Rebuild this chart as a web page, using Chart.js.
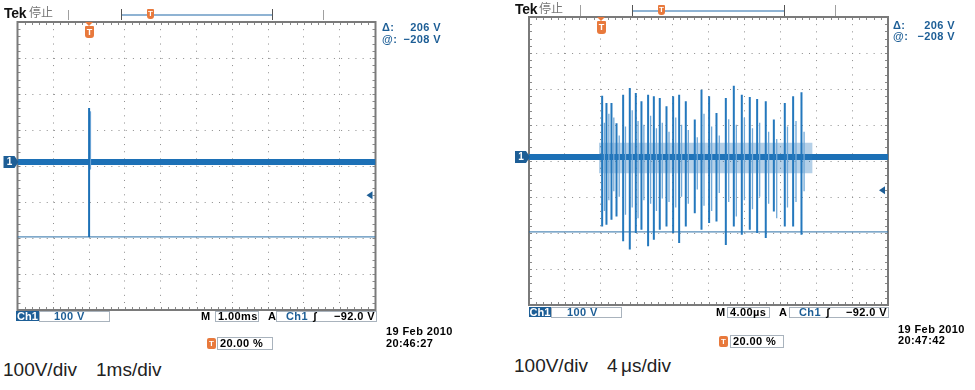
<!DOCTYPE html>
<html>
<head>
<meta charset="utf-8">
<script src="https://cdn.jsdelivr.net/npm/chart.js@4.4.1/dist/chart.umd.min.js"></script>
<style>
body { margin: 0; background: #fff; width: 975px; height: 390px; position: relative; overflow: hidden; font-family: "Liberation Sans", Arial, sans-serif; }
canvas { position: absolute; top: 0; }
.t { position: absolute; white-space: nowrap; line-height: 1; }
.s { font-weight: bold; font-size: 11px; letter-spacing: 0.4px; }
.blue { color: #1d5e96; }
.box { position: absolute; border: 1px solid #a9b3bd; box-sizing: border-box; }
.ch { position: absolute; background: #1d5e96; color: #fff; font-weight: bold; font-size: 11px; line-height: 10px; text-align: center; }
.tek { font-size: 14px; font-weight: bold; color: #111; letter-spacing: -0.3px; }
.stop { font-family: "Noto Sans CJK SC", sans-serif; font-size: 12px; color: #777; }
.cap { font-size: 19px; color: #222; }
.gtick { position: absolute; width: 1px; background: #a0a0a0; }
.brk { position: absolute; border: 1px solid #555; border-top: none; border-bottom: none; box-sizing: border-box; }
.brkline { position: absolute; height: 2px; background: #8fb3d3; }
.tsm { position: absolute; background: #e8793c; color: #fff; font: bold 8px "Liberation Sans", Arial, sans-serif; text-align: center; border-radius: 1px 1px 3px 3px; }
.tri { position: absolute; width: 0; height: 0; border-left: 4px solid transparent; border-right: 4px solid transparent; border-top: 4px solid #e8793c; }
</style>
</head>
<body>
<canvas id="slow" width="390" height="320" style="left:0"></canvas>
<canvas id="fast" width="400" height="315" style="left:510px"></canvas>

<!-- left capture header -->
<div class="t tek" style="left:4px;top:6px">Tek</div>
<div class="t stop" style="left:29px;top:6px">停止</div>
<div class="gtick" style="left:68px;top:10px;height:10px"></div>
<div class="gtick" style="left:323px;top:10px;height:10px"></div>
<div class="brk" style="left:121px;top:9px;width:152px;height:11px"></div>
<div class="brkline" style="left:122px;top:14px;width:150px"></div>
<div class="tsm" style="left:147px;top:9px;width:7px;height:10px;line-height:10px">T</div>
<div class="tri" style="left:85px;top:22px"></div>
<div class="tsm" style="left:85px;top:26px;width:9px;height:12px;line-height:12px;font-size:9px">T</div>
<div class="t s blue" style="left:382px;top:22px">Δ:</div>
<div class="t s blue" style="left:382px;top:34px;width:59px;text-align:left">@:</div>
<div class="t s blue" style="left:382px;top:22px;width:59px;text-align:right">206 V</div>
<div class="t s blue" style="left:382px;top:34px;width:59px;text-align:right">−208 V</div>

<!-- left capture footer -->
<div class="ch" style="left:16px;top:311px;width:23px;height:10px">Ch1</div>
<div class="box" style="left:39px;top:311px;width:71px;height:11px"></div>
<div class="t s blue" style="left:54px;top:311px">100 V</div>
<div class="t s" style="left:201px;top:311px">M</div>
<div class="box" style="left:215px;top:311px;width:44px;height:11px"></div>
<div class="t s" style="left:218px;top:311px">1.00ms</div>
<div class="t s" style="left:268px;top:311px">A</div>
<div class="box" style="left:276px;top:311px;width:101px;height:11px"></div>
<div class="t s blue" style="left:286px;top:311px">Ch1</div>
<div class="t s" style="left:313px;top:311px">ʃ</div>
<div class="t s" style="left:276px;top:311px;width:99px;text-align:right">−92.0 V</div>
<div class="tsm" style="left:207px;top:338px;width:9px;height:11px;line-height:11px;border-radius:2px">T</div>
<div class="box" style="left:217px;top:337px;width:56px;height:13px"></div>
<div class="t s" style="left:220px;top:338px">20.00 %</div>
<div class="t s" style="left:386px;top:326px">19 Feb  2010</div>
<div class="t s" style="left:386px;top:338px">20:46:27</div>
<div class="t cap" style="left:3px;top:360px">100V/div</div>
<div class="t cap" style="left:96px;top:360px">1ms/div</div>

<!-- right capture header -->
<div class="t tek" style="left:515px;top:2px">Tek</div>
<div class="t stop" style="left:539px;top:2px">停止</div>
<div class="gtick" style="left:580px;top:5px;height:11px"></div>
<div class="gtick" style="left:835px;top:5px;height:11px"></div>
<div class="brk" style="left:632px;top:5px;width:153px;height:11px"></div>
<div class="brkline" style="left:633px;top:10px;width:151px"></div>
<div class="tsm" style="left:658px;top:5px;width:7px;height:10px;line-height:10px">T</div>
<div class="tri" style="left:597px;top:17px"></div>
<div class="tsm" style="left:597px;top:21px;width:9px;height:13px;line-height:13px;font-size:9px">T</div>
<div class="t s blue" style="left:893px;top:20px">Δ:</div>
<div class="t s blue" style="left:893px;top:31px">@:</div>
<div class="t s blue" style="left:893px;top:20px;width:62px;text-align:right">206 V</div>
<div class="t s blue" style="left:893px;top:31px;width:62px;text-align:right">−208 V</div>

<!-- right capture footer -->
<div class="ch" style="left:529px;top:307px;width:22px;height:10px">Ch1</div>
<div class="box" style="left:551px;top:307px;width:71px;height:11px"></div>
<div class="t s blue" style="left:567px;top:307px">100 V</div>
<div class="t s" style="left:716px;top:307px">M</div>
<div class="box" style="left:727px;top:307px;width:43px;height:11px"></div>
<div class="t s" style="left:730px;top:307px">4.00µs</div>
<div class="t s" style="left:779px;top:307px">A</div>
<div class="box" style="left:789px;top:307px;width:100px;height:11px"></div>
<div class="t s blue" style="left:799px;top:307px">Ch1</div>
<div class="t s" style="left:826px;top:307px">ʃ</div>
<div class="t s" style="left:789px;top:307px;width:98px;text-align:right">−92.0 V</div>
<div class="tsm" style="left:719px;top:336px;width:9px;height:11px;line-height:11px;border-radius:2px">T</div>
<div class="box" style="left:730px;top:335px;width:54px;height:13px"></div>
<div class="t s" style="left:733px;top:336px">20.00 %</div>
<div class="t s" style="left:898px;top:324px">19 Feb  2010</div>
<div class="t s" style="left:898px;top:335px">20:47:42</div>
<div class="t cap" style="left:514px;top:356px">100V/div</div>
<div class="t cap" style="left:607px;top:356px">4</div>
<div class="t cap" style="left:621px;top:356px">μs/div</div>

<script>
// shared vertical setup: 100 V/div, ground 11 V above screen centre
var voltTicks = [-411, -311, -211, -111, -11, 89, 189, 289, 389];
var cursorLevels = [-2, -208];
var triggerLevel = -92;

// left capture, 1 ms/div, trigger at 20 %
var slowWindow = [-2, 8];
var slowSpikeTime = [0];
var slowSpikeHigh = [150];
var slowSpikeLow = [-208];
var slowRingTime = [0.04];
var slowRingHigh = [140];
var slowRingLow = [-20];

// right capture, 4 us/div, trigger at 20 %
var fastWindow = [-8, 32];
var fastSpikeTime = [0.15, 0.63, 1.19, 1.75, 2.49, 3.23, 3.90, 4.53, 5.27, 5.91,
    6.57, 7.32, 8.06, 8.73, 9.47, 10.47, 11.22, 12.07, 12.89, 13.93,
    14.82, 15.71, 16.60, 17.42, 18.38, 19.28, 20.50, 21.43, 22.36];
var fastSpikeHigh = [170, 150, 150, 94, 173, 192, 178, 155, 173, 169,
    164, 141, 169, 173, 155, 104, 187, 169, 122, 164,
    198, 173, 167, 161, 155, 104, 150, 169, 180];
var fastSpikeLow = [-193, -188, -174, -165, -234, -257, -211, -202, -248, -230,
    -202, -193, -211, -239, -193, -156, -202, -183, -179, -244,
    -193, -216, -202, -211, -225, -151, -193, -193, -216];
// fainter ringing lines that trail each spike
var fastRingTime = [0.40, 0.90, 1.45, 2.05, 2.75, 3.50, 4.15, 4.80, 5.55, 6.20,
    6.85, 7.60, 8.35, 9.00, 9.75, 10.75, 11.50, 12.35, 13.20, 14.25,
    15.10, 16.00, 16.90, 17.70, 18.70, 19.60, 20.80, 21.75, 22.65];
var fastRingHigh = [95, 120, 110, 60, 85, 130, 100, 90, 115, 80,
    95, 70, 110, 90, 75, 55, 120, 85, 60, 105,
    90, 110, 80, 95, 70, 50, 85, 100, 70];
var fastRingLow = [-150, -120, -95, -110, -160, -140, -170, -120, -130, -150,
    -115, -125, -140, -110, -130, -90, -135, -150, -100, -125,
    -165, -120, -145, -110, -130, -170, -140, -125, -95];
var burstSpan = [-0.2, 23.6];
var burstEnvelope = [40, -45];

var traceBlue = '#1c70b6';
var spikeBlue = '#2478bd';
var ringBlue = '#72a9d8';
var cursorBlue = '#2a6ea6';

function spikePoints(times, highs, lows) {
    var pts = [];
    times.forEach(function (t, i) {
        pts.push({x: t, y: highs[i]}, {x: t, y: lows[i]}, {x: t, y: null});
    });
    return pts;
}

function flat(range, level) {
    return [{x: range[0], y: level}, {x: range[1], y: level}];
}

var graticule = {
    id: 'graticule',
    beforeDatasetsDraw: function (chart) {
        var a = chart.chartArea, ctx = chart.ctx;
        var dx = (a.right - a.left) / 50, dy = (a.bottom - a.top) / 40;
        ctx.save();
        ctx.strokeStyle = '#8a8a8a';
        ctx.lineWidth = 1;
        ctx.beginPath();
        for (var i = 1; i < 50; i++) {
            var x = Math.round(a.left + i * dx) + 0.5;
            ctx.moveTo(x, a.top); ctx.lineTo(x, a.top + 3);
            ctx.moveTo(x, a.bottom); ctx.lineTo(x, a.bottom - 3);
        }
        for (var j = 1; j < 40; j++) {
            var y = Math.round(a.top + j * dy) + 0.5;
            ctx.moveTo(a.left, y); ctx.lineTo(a.left + 3, y);
            ctx.moveTo(a.right, y); ctx.lineTo(a.right - 3, y);
        }
        ctx.stroke();
        ctx.lineWidth = 2;
        ctx.strokeStyle = '#7a7a7a';
        ctx.strokeRect(a.left, a.top, a.right - a.left, a.bottom - a.top);
        ctx.restore();
    },
    afterDatasetsDraw: function (chart) {
        var a = chart.chartArea, ctx = chart.ctx, ys = chart.scales.y;
        var g = ys.getPixelForValue(0);
        var tl = ys.getPixelForValue(triggerLevel);
        ctx.save();
        ctx.fillStyle = '#1d5e96';
        ctx.beginPath();
        ctx.moveTo(a.left - 14, g - 6);
        ctx.lineTo(a.left - 3, g - 6);
        ctx.lineTo(a.left + 1, g);
        ctx.lineTo(a.left - 3, g + 6);
        ctx.lineTo(a.left - 14, g + 6);
        ctx.closePath();
        ctx.fill();
        ctx.fillStyle = '#fff';
        ctx.font = 'bold 10px "Liberation Sans", Arial, sans-serif';
        ctx.textAlign = 'center';
        ctx.textBaseline = 'middle';
        ctx.fillText('1', a.left - 8, g + 0.5);
        ctx.fillStyle = '#1d5e96';
        ctx.beginPath();
        ctx.moveTo(a.right - 9, tl);
        ctx.lineTo(a.right - 3, tl - 4);
        ctx.lineTo(a.right - 3, tl + 4);
        ctx.closePath();
        ctx.fill();
        ctx.restore();
    }
};

function scopeOptions(win, step, pad) {
    return {
        responsive: false,
        animation: false,
        events: [],
        layout: {padding: pad},
        plugins: {legend: {display: false}, tooltip: {enabled: false}},
        elements: {point: {radius: 0}, line: {tension: 0}},
        scales: {
            x: {
                type: 'linear', min: win[0], max: win[1],
                ticks: {display: false, stepSize: step},
                grid: {color: '#8c8c8c', lineWidth: 1, drawTicks: false},
                border: {display: false, dash: [1, 6.18]}
            },
            y: {
                type: 'linear', min: voltTicks[0], max: voltTicks[voltTicks.length - 1],
                ticks: {display: false},
                afterBuildTicks: function (scale) {
                    scale.ticks = voltTicks.map(function (v) { return {value: v}; });
                },
                grid: {color: '#8c8c8c', lineWidth: 1, drawTicks: false},
                border: {display: false, dash: [1, 6.18]}
            }
        }
    };
}

function cursorSets(win) {
    return cursorLevels.map(function (lv) {
        return {data: flat(win, lv), borderColor: cursorBlue, borderWidth: 1, order: 4};
    });
}

new Chart(document.getElementById('slow'), {
    type: 'line',
    data: {
        datasets: [
            {data: spikePoints(slowSpikeTime, slowSpikeHigh, slowSpikeLow), borderColor: traceBlue, borderWidth: 2, spanGaps: false, order: 0},
            {data: spikePoints(slowRingTime, slowRingHigh, slowRingLow), borderColor: ringBlue, borderWidth: 1, spanGaps: false, order: 1},
            {data: flat(slowWindow, 0), borderColor: traceBlue, borderWidth: 6, order: 3}
        ].concat(cursorSets(slowWindow))
    },
    options: scopeOptions(slowWindow, 1, {left: 17.5, top: 22, right: 14.5, bottom: 10}),
    plugins: [graticule]
});

new Chart(document.getElementById('fast'), {
    type: 'line',
    data: {
        datasets: [
            {data: spikePoints(fastSpikeTime, fastSpikeHigh, fastSpikeLow), borderColor: spikeBlue, borderWidth: 2, spanGaps: false, order: 0},
            {data: spikePoints(fastRingTime, fastRingHigh, fastRingLow), borderColor: ringBlue, borderWidth: 1.3, spanGaps: false, order: 1},
            {data: flat(burstSpan, burstEnvelope[0]), borderWidth: 0, borderColor: 'transparent', backgroundColor: 'rgba(40,120,190,0.35)', fill: '+1', order: 2},
            {data: flat(burstSpan, burstEnvelope[1]), borderWidth: 0, borderColor: 'transparent', order: 2},
            {data: flat(fastWindow, 0), borderColor: traceBlue, borderWidth: 6, order: 3}
        ].concat(cursorSets(fastWindow))
    },
    options: scopeOptions(fastWindow, 4, {left: 19, top: 17, right: 22, bottom: 10}),
    plugins: [graticule]
});
</script>
</body>
</html>
